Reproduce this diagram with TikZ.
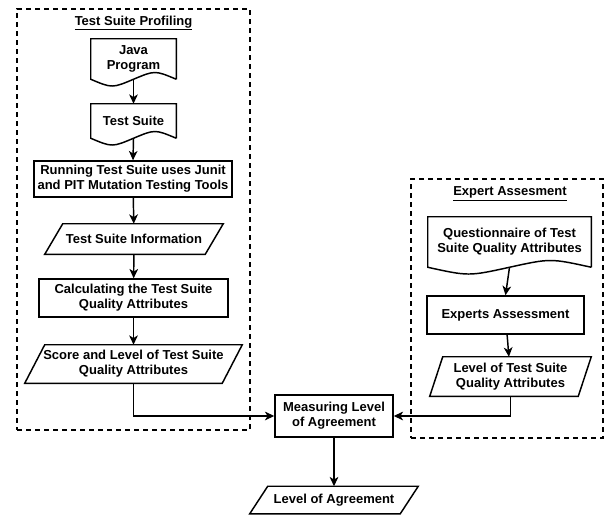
\documentclass[tikz,border=0pt]{standalone}
\usepackage{fontspec}
\setmainfont{Liberation Sans}
\usetikzlibrary{arrows.meta,calc}

% document outline with a wavy lower edge
\newcommand\docline[1]{\draw[line width=1.1pt] (#1.south east) -- (#1.north east) -- (#1.north west) -- (#1.south west)
  .. controls ($(#1.south west)!0.5!(#1.south)+(0,9)$) .. (#1.south)
  .. controls ($(#1.south)!0.5!(#1.south east)+(0,-9)$) .. (#1.south east);}
% slanted data outline
\newcommand\dataline[2]{\draw[line width=1.1pt] ($(#1.north west)+(#2,0)$) -- (#1.north east)
  -- ($(#1.south east)-(#2,0)$) -- (#1.south west) -- cycle;}

\begin{document}
\begin{tikzpicture}[x=0.75pt,y=-0.75pt]
\tikzstyle{every node}=[font=\bfseries\fontsize{9.75}{11.25}\selectfont, align=center, inner sep=0pt]
\tikzstyle{proc}=[rectangle, draw, line width=1.1pt]
\tikzstyle{group}=[rectangle, draw, line width=0.9pt, dash pattern=on 3.75pt off 3pt]
\tikzstyle{arr}=[line width=1.1pt, -{Stealth[length=7pt,width=6.5pt,inset=2pt]}]
\useasboundingbox (0,0) rectangle (606,514);

% group frames
\node[group, minimum width=174.75pt, minimum height=315.75pt] (profiling) at (133.5,219.5) {};
\node[group, minimum width=144pt, minimum height=194.25pt] (expert) at (507,308.5) {};
\node (proftitle) at (133.5,23) {\underline{Test Suite Profiling}};
\node (exptitle) at (510,194) {\underline{Expert Assesment}};

% test suite profiling
\node[minimum width=63.75pt, minimum height=30pt] (java) at (133.5,59) {Java\\Program};
\node[minimum width=63.75pt, minimum height=25.5pt] (suite) at (133.5,121) {Test Suite};
\node[proc, minimum width=148.5pt, minimum height=27pt] (run) at (133,179) {Running Test Suite uses Junit\\and PIT Mutation Testing Tools};
\node[minimum width=133.5pt, minimum height=22.5pt] (info) at (134,239) {Test Suite Information};
\node[proc, minimum width=141.75pt, minimum height=28.5pt] (calc) at (133.5,298) {Calculating the Test Suite\\Quality Attributes};
\node[minimum width=162.75pt, minimum height=28.5pt] (score) at (133.5,364) {Score and Level of Test Suite\\Quality Attributes};
\docline{java}
\docline{suite}
\dataline{info}{18}
\dataline{score}{20}

% expert assesment
\node[minimum width=122.25pt, minimum height=37.5pt] (quest) at (509.5,242) {Questionnaire of Test\\Suite Quality Attributes};
\node[proc, minimum width=117.75pt, minimum height=28.5pt] (assess) at (505.5,315) {Experts Assessment};
\node[minimum width=120.75pt, minimum height=29.25pt] (level) at (510.5,376.5) {Level of Test Suite\\Quality Attributes};
\docline{quest}
\dataline{level}{13}

% agreement
\node[proc, minimum width=88.5pt, minimum height=31.5pt] (measure) at (334,416) {Measuring Level\\of Agreement};
\node[minimum width=126pt, minimum height=20.25pt] (agree) at (334,500) {Level of Agreement};
\dataline{agree}{18}

\draw[arr] (java.south) -- (suite.north);
\draw[arr] (suite.south) -- (run.north);
\draw[arr] (run) -- (info);
\draw[arr] (info) -- (calc);
\draw[arr] (calc) -- (score);
\draw[arr] (score.south) |- (measure.west);
\draw[arr] (quest.south) -- (assess.north);
\draw[arr] (assess) -- (level);
\draw[arr] (level.south) |- (measure.east);
\draw[arr] (measure) -- (agree);
\end{tikzpicture}
\end{document}
